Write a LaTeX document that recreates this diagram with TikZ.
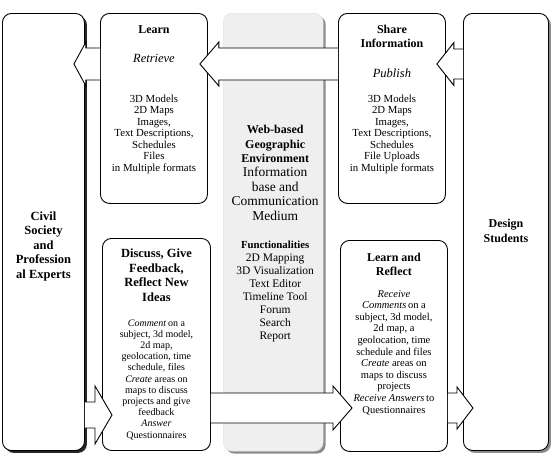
\documentclass[tikz,border=0pt]{standalone}
\usepackage{fontspec}
\setmainfont{Liberation Serif}
\usetikzlibrary{calc,shadows}

\definecolor{paneFill}{HTML}{EFEFEF}
\definecolor{paneShadow}{HTML}{8C8C8C}

\tikzset{
  box/.style={draw, line width=0.9pt, rounded corners=9pt, fill=white, inner sep=0pt, anchor=north west},
  darkshadow/.style={drop shadow={shadow xshift=2.5pt, shadow yshift=-2.5pt, fill=black!85, opacity=1}},
  greyshadow/.style={drop shadow={shadow xshift=2.5pt, shadow yshift=-2.5pt, fill=paneShadow, opacity=1}},
  pane/.style={draw=black!12, line width=0.4pt, rounded corners=9pt, fill=paneFill, inner sep=0pt, anchor=north west},
  txt/.style={anchor=north, inner sep=0pt, align=center},
  bigarrow/.style={draw, fill=white, line width=0.9pt, line join=miter},
}

% block arrow: start, tip, shaft half width, head half width, head length
\newcommand{\blockarrow}[5]{%
  \filldraw[bigarrow] let \p1=(#1), \p2=(#2), \p3=($(#2)!#5pt!(#1)$) in
    (\x1,\y2+#3pt) -- (\x3,\y2+#3pt) -- (\x3,\y2+#4pt) -- (\x2,\y2)
    -- (\x3,\y2-#4pt) -- (\x3,\y2-#3pt) -- (\x1,\y2-#3pt);}

\begin{document}
\begin{tikzpicture}[x=1pt,y=-1pt]
  \useasboundingbox (0,0) rectangle (552,455);

  % boxes
  \node[box, darkshadow, minimum width=82pt, minimum height=437pt] (civil) at (2,13) {};
  \node[box, minimum width=107pt, minimum height=190pt] (learn) at (100,13) {};
  \node[pane, greyshadow, minimum width=100pt, minimum height=438pt] (web) at (223,13) {};
  \node[box, minimum width=107pt, minimum height=190pt] (share) at (338,13) {};
  \node[box, greyshadow, minimum width=85pt, minimum height=437pt] (design) at (463,13) {};
  \node[box, minimum width=108pt, minimum height=212pt] (discuss) at (102,238) {};
  \node[box, minimum width=107pt, minimum height=211pt] (reflect) at (340,240) {};

  \coordinate (toprow) at (0,64);
  \coordinate (civrow) at (0,415);
  \coordinate (botrow) at (0,408);

  % arrows
  \blockarrow{learn.west|-toprow}{$(civil.east|-toprow)+(-11,0)$}{16}{22}{12}
  \blockarrow{share.west|-toprow}{$(learn.east|-toprow)+(-8,0)$}{16}{22}{19}
  \blockarrow{design.west|-toprow}{$(share.east|-toprow)+(-9,0)$}{15}{21.5}{17}
  \blockarrow{civil.east|-civrow}{$(discuss.west|-civrow)+(10,0)$}{13}{29}{17}
  \blockarrow{discuss.east|-botrow}{$(reflect.west|-botrow)+(12,0)$}{15}{22}{19}
  \blockarrow{reflect.east|-botrow}{$(design.west|-botrow)+(10,0)$}{15}{21}{16}

  % texts
  \node[txt, font={\fontsize{12.5}{14.5}\selectfont\bfseries}] (civiltxt) at (civil.north |- 0,211.6)
    {Civil\\Society\\and\\Profession\\al Experts};
  \node[txt, font={\fontsize{12}{15}\selectfont\bfseries}] (designtxt) at (design.north |- 0,219)
    {Design\\Students};

  \node[txt, font={\fontsize{12}{14}\selectfont\bfseries}] (learntitle) at (learn.north |- 0,25) {Learn};
  \node[txt, font={\fontsize{12.5}{14}\selectfont\itshape}] (learnverb) at (learn.north |- 0,53.7) {Retrieve};
  \node[txt, font={\fontsize{10.8}{11.5}\selectfont}] (learnbody) at (learn.north |- 0,94.8)
    {3D Models\\2D Maps\\Images,\\Text Descriptions,\\Schedules\\Files\\in Multiple formats};

  \node[txt, font={\fontsize{12}{14}\selectfont\bfseries}] (sharetitle) at (share.north |- 0,25) {Share\\Information};
  \node[txt, font={\fontsize{12.5}{14}\selectfont\itshape}] (shareverb) at (share.north |- 0,68.7) {Publish};
  \node[txt, font={\fontsize{10.8}{11.5}\selectfont}] (sharebody) at (share.north |- 0,94.8)
    {3D Models\\2D Maps\\Images,\\Text Descriptions,\\Schedules\\File Uploads\\in Multiple formats};

  \node[txt, font={\fontsize{12}{14.5}\selectfont\bfseries}] (webtitle) at ([xshift=2pt]web.north |- 0,125)
    {Web-based\\Geographic\\Environment};
  \node[txt, font={\fontsize{13.5}{14.5}\selectfont}] (webmedium) at ([xshift=2pt]web.north |- 0,167)
    {Information\\base and\\Communication\\Medium};
  \node[txt, font={\fontsize{10.8}{13}\selectfont\bfseries}] (functitle) at ([xshift=2pt]web.north |- 0,240.8)
    {Functionalities};
  \node[txt, font={\fontsize{11.5}{13}\selectfont}] (funclist) at ([xshift=2pt]web.north |- 0,253.3)
    {2D Mapping\\3D Visualization\\Text Editor\\Timeline Tool\\Forum\\Search\\Report};

  \node[txt, font={\fontsize{12.5}{14.6}\selectfont\bfseries}] (discusstitle) at (discuss.north |- 0,248.6)
    {Discuss, Give\\Feedback,\\Reflect New\\Ideas};
  \node[txt, font={\fontsize{10}{11.2}\selectfont}] (discussbody) at (discuss.north |- 0,319.3)
    {\textit{Comment}\,on a\\subject, 3d model,\\2d map,\\geolocation, time\\schedule, files\\
     \textit{Create} areas on\\maps to discuss\\projects and give\\feedback\\\textit{Answer}\\Questionnaires};

  \node[txt, font={\fontsize{12}{14}\selectfont\bfseries}] (reflecttitle) at (reflect.north |- 0,253)
    {Learn and\\Reflect};
  \node[txt, font={\fontsize{10.5}{11.6}\selectfont}] (reflectbody) at (reflect.north |- 0,290)
    {\textit{Receive}\\\textit{Comments}\,on a\\subject, 3d model,\\2d map, a\\geolocation, time\\schedule and files\\
     \textit{Create} areas on\\maps to discuss\\projects\\\textit{Receive Answers}\,to\\Questionnaires};
\end{tikzpicture}
\end{document}
